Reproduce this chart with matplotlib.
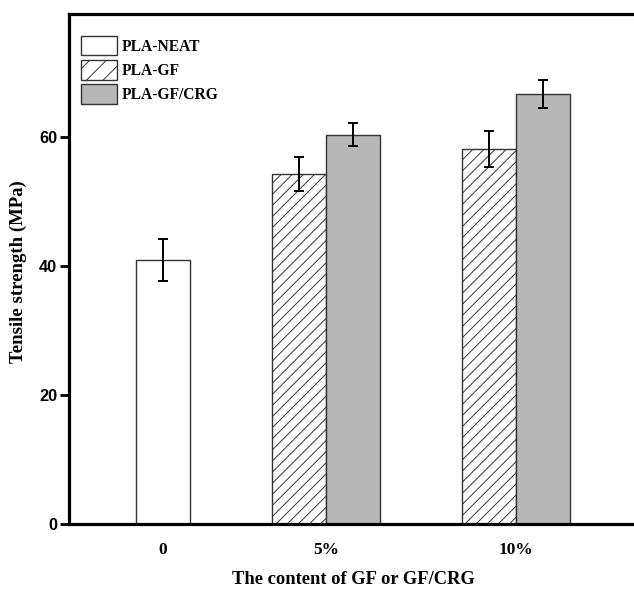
import matplotlib
matplotlib.use("Agg")
import matplotlib.pyplot as plt
from matplotlib.patches import Patch

# tensile strength data
groups = ["0", "5%", "10%"]
neat_mean = [40.9]
neat_err = [3.2]
gf_mean = [54.2, 58.1]
gf_err = [2.6, 2.8]
crg_mean = [60.3, 66.6]
crg_err = [1.8, 2.2]
series_names = ["PLA-NEAT", "PLA-GF", "PLA-GF/CRG"]

plt.rcParams["hatch.linewidth"] = 0.7
serif = "Liberation Serif"

fig = plt.figure(figsize=(6.34, 5.89), dpi=100)
ax = fig.add_axes([0.1088, 0.1104, 0.8912, 0.8659])

centers = [1.0, 2.0, 3.1656]
w = 0.3313
edge = "#333333"
gray = "#b7b7b7"
err_kw = dict(ecolor="black", elinewidth=1.4, capsize=3.4, capthick=1.4)

ax.bar(centers[0], neat_mean[0], w, yerr=neat_err[0], color="white",
       edgecolor=edge, linewidth=1.0, error_kw=err_kw, zorder=2)
gf_x = [c - w / 2 for c in centers[1:]]
crg_x = [c + w / 2 for c in centers[1:]]
ax.bar(gf_x, gf_mean, w, yerr=gf_err, color="white", edgecolor=edge,
       hatch="///", linewidth=1.0, error_kw=err_kw, zorder=2)
ax.bar(crg_x, crg_mean, w, yerr=crg_err, color=gray, edgecolor=edge,
       linewidth=1.0, error_kw=err_kw, zorder=2)

ax.set_xlim(0.4233, 3.8896)
ax.set_ylim(0, 79)
ax.set_yticks([0, 20, 40, 60])
ax.set_xticks(centers)
ax.set_xticklabels(groups, fontfamily=serif, fontweight="bold", fontsize=12.5)
for t in ax.get_yticklabels():
    t.set_fontfamily("Liberation Sans")
    t.set_fontweight("bold")
    t.set_fontsize(11.8)

ax.tick_params(axis="x", length=0, pad=13)
ax.tick_params(axis="y", direction="out", length=6.5, width=2.0, pad=2)

for s in ["left", "bottom", "top"]:
    ax.spines[s].set_linewidth(2.3)
ax.spines["right"].set_visible(False)

ax.set_xlabel("The content of GF or GF/CRG", fontfamily=serif,
              fontweight="bold", fontsize=13.3)
ax.set_ylabel("Tensile strength (MPa)", fontfamily=serif,
              fontweight="bold", fontsize=13.5)
ax.xaxis.set_label_coords(0.503, -0.092)
ax.yaxis.set_label_coords(-0.0743, 0.495)

handles = [
    Patch(facecolor="white", edgecolor=edge, linewidth=1.0),
    Patch(facecolor="white", edgecolor=edge, hatch="//", linewidth=1.0),
    Patch(facecolor=gray, edgecolor=edge, linewidth=1.0),
]
ax.legend(handles, series_names, loc="upper left",
          bbox_to_anchor=(0.021, 0.957), frameon=False, borderpad=0,
          borderaxespad=0, handlelength=2.3, handleheight=1.55,
          handletextpad=0.3, labelspacing=0.3,
          prop={"family": serif, "weight": "bold", "size": 11.2})

fig.savefig("out.png", dpi=100)
